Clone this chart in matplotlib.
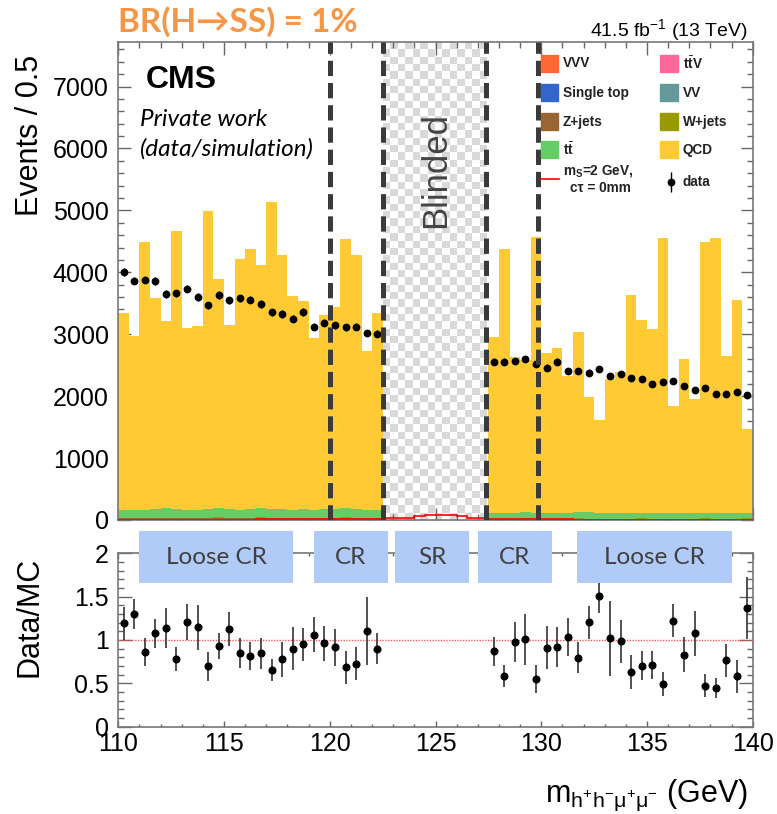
import numpy as np
import matplotlib
matplotlib.use("Agg")
import matplotlib.pyplot as plt
from matplotlib.patches import Rectangle
from matplotlib.colors import ListedColormap
from matplotlib.ticker import MultipleLocator, FuncFormatter

plt.rcParams['font.family'] = ['Liberation Sans', 'DejaVu Sans']
plt.rcParams['mathtext.fontset'] = 'custom'
plt.rcParams['mathtext.rm'] = 'Liberation Sans'
plt.rcParams['mathtext.it'] = 'Liberation Sans:italic'
plt.rcParams['mathtext.bf'] = 'Liberation Sans:bold'
plt.rcParams['lines.scale_dashes'] = False

# binning: 0.5 GeV bins, 122.5-127.5 blinded
edges = np.arange(110, 140.001, 0.5)
edges_lo = edges[:26]      # 110 -> 122.5
edges_hi = edges[35:]      # 127.5 -> 140

# data (events per bin), left and right sidebands
data_lo = [4000, 3866, 3882, 3855, 3650, 3661, 3737, 3602, 3468, 3634, 3548, 3581, 3559,
           3489, 3355, 3328, 3247, 3360, 3118, 3183, 3145, 3113, 3118, 3021, 3011]
data_hi = [2559, 2559, 2570, 2602, 2516, 2462, 2559, 2403, 2409, 2382, 2435, 2323, 2360,
           2301, 2274, 2194, 2221, 2247, 2156, 2102, 2129, 2032, 2038, 2060, 2021]

# simulated backgrounds
qcd_lo = [3180, 2820, 4330, 3405, 3030, 4490, 2925, 2975, 4815, 3705, 2975, 4055, 4205,
          3920, 4965, 4105, 3450, 3360, 2770, 3135, 3265, 4340, 4105, 2570, 3180]
qcd_hi = [2840, 4270, 2517, 2463, 4453, 2587, 2668, 2211, 2904, 1856, 1496, 2168, 2288,
          3528, 3108, 2969, 4442, 1727, 2485, 1840, 4377, 4442, 2539, 3447, 1356]
tt_lo = [135, 128, 132, 140, 148, 142, 135, 130, 138, 145, 138, 130, 134, 150, 140, 136,
         130, 138, 133, 140, 136, 150, 142, 130, 134]
tt_hi = [88, 85, 90, 95, 92, 88, 86, 95, 98, 100, 92, 88, 85, 88, 92, 90, 86, 88, 92, 88,
         85, 88, 90, 86, 95]
wj_lo = [8, 7, 8, 9, 10, 8, 8, 7, 9, 10, 8, 8, 9, 12, 9, 8, 8, 9, 8, 9, 8, 12, 9, 8, 8]
wj_hi = [5, 5, 4, 6, 5, 5, 4, 5, 6, 5, 5, 4, 5, 5, 6, 5, 4, 5, 5, 5, 4, 5, 5, 4, 5]
zj_lo = [15, 14, 16, 15, 18, 16, 15, 14, 17, 20, 16, 15, 16, 25, 18, 16, 15, 17, 16, 18,
         16, 28, 18, 15, 16]
zj_hi = [10, 9, 11, 12, 10, 9, 10, 11, 12, 10, 9, 10, 11, 10, 9, 10, 11, 10, 9, 10, 10,
         9, 10, 11, 12]
vv_lo = [3, 3, 2, 3, 3, 3, 2, 3, 3, 3, 3, 2, 3, 3, 3, 3, 2, 3, 3, 3, 3, 2, 3, 3, 3]
vv_hi = [2, 2, 2, 3, 2, 2, 2, 2, 3, 2, 2, 2, 2, 2, 3, 2, 2, 2, 2, 2, 3, 2, 2, 2, 2]
st_lo = [5, 5, 5, 6, 5, 5, 6, 5, 5, 6, 5, 5, 5, 6, 5, 5, 5, 6, 5, 5, 5, 6, 5, 5, 5]
st_hi = [4, 4, 4, 5, 4, 4, 4, 4, 5, 4, 4, 4, 4, 4, 5, 4, 4, 4, 4, 4, 5, 4, 4, 4, 4]
ttv_lo = [2, 2, 2, 2, 2, 2, 2, 2, 2, 2, 2, 2, 2, 2, 2, 2, 2, 2, 2, 2, 2, 2, 2, 2, 2]
ttv_hi = [2, 2, 2, 2, 2, 2, 1, 2, 2, 2, 2, 2, 1, 2, 2, 2, 2, 2, 1, 2, 2, 2, 2, 2, 1]
vvv_lo = [0.5, 0.4, 0.5, 0.5, 0.5, 0.4, 0.5, 0.5, 0.5, 0.4, 0.5, 0.5, 0.5, 0.4, 0.5,
          0.5, 0.5, 0.4, 0.5, 0.5, 0.5, 0.4, 0.5, 0.5, 0.5]
vvv_hi = [0.4, 0.4, 0.4, 0.4, 0.4, 0.4, 0.4, 0.4, 0.4, 0.4, 0.4, 0.4, 0.4, 0.4, 0.4,
          0.4, 0.4, 0.4, 0.4, 0.4, 0.4, 0.4, 0.4, 0.4, 0.4]

# signal m_S = 2 GeV, ctau = 0mm (all 60 bins)
signal = [4, 4, 5, 5, 5, 5, 6, 6, 6, 6, 7, 7, 7, 8, 8, 8, 9, 9, 10, 10, 11, 12, 13, 14, 16,
          28, 30, 32, 60, 85, 88, 86, 62, 32, 28,
          16, 14, 12, 11, 10, 9, 8, 8, 7, 7, 6, 6, 6, 5, 5, 5, 5, 4, 4, 4, 4, 4, 3, 3, 3]

# data/MC ratio uncertainties
rerr_lo = [0.19, 0.17, 0.16, 0.17, 0.23, 0.14, 0.21, 0.26, 0.165, 0.15, 0.2, 0.17, 0.165,
           0.18, 0.13, 0.2, 0.245, 0.19, 0.2, 0.2, 0.21, 0.19, 0.19, 0.39, 0.18]
rerr_hi = [0.165, 0.13, 0.23, 0.29, 0.165, 0.25, 0.23, 0.22, 0.18, 0.19, 0.2, 0.43, 0.25,
           0.2, 0.165, 0.16, 0.14, 0.19, 0.2, 0.26, 0.13, 0.12, 0.19, 0.19, 0.36]

# stack order bottom -> top
stack = [
    ("VVV", vvv_lo, vvv_hi, "#ff6633"),
    (r"t$\bar{\mathbf{t}}$V", ttv_lo, ttv_hi, "#ff6699"),
    ("Single top", st_lo, st_hi, "#3366cc"),
    ("VV", vv_lo, vv_hi, "#669999"),
    ("Z+jets", zj_lo, zj_hi, "#996633"),
    ("W+jets", wj_lo, wj_hi, "#999900"),
    (r"t$\bar{\mathbf{t}}$", tt_lo, tt_hi, "#66cc66"),
    ("QCD", qcd_lo, qcd_hi, "#ffca33"),
]
colors = {name: c for name, _, _, c in stack}

regions = ["Loose CR", "CR", "SR", "CR", "Loose CR"]
region_lo = [111.0, 119.25, 123.1, 127.0, 131.7]
region_hi = [118.25, 122.75, 126.6, 130.5, 139.0]

YMAX = 7720

fig = plt.figure(figsize=(7.77, 8.14), dpi=100)
ax1 = fig.add_axes([0.1523, 0.3612, 0.8164, 0.5872])
ax2 = fig.add_axes([0.1523, 0.1073, 0.8164, 0.2130])

# stacked backgrounds
for edg, side in ((edges_lo, 1), (edges_hi, 2)):
    bottom = np.zeros(25)
    for name, lo, hi, c in stack:
        vals = np.array(lo if side == 1 else hi, dtype=float)
        ax1.stairs(bottom + vals, edg, baseline=bottom, fill=True, color=c, lw=0, zorder=2)
        bottom = bottom + vals

# blinded checkerboard
checker = np.indices((65, 14)).sum(axis=0) % 2
ax1.imshow(checker, cmap=ListedColormap(["white", "#d9d9d9"]), extent=[122.5, 127.4, 0, YMAX],
           aspect="auto", interpolation="nearest", zorder=1)
ax1.text(125.0, 5650, "Blinded", rotation=90, ha="center", va="center", fontsize=25,
         color="#444444", zorder=3)

# signal
ax1.stairs(signal, edges, color="red", lw=1.2, zorder=4)

# data
x_lo = edges_lo[:-1] + 0.25
x_hi = edges_hi[:-1] + 0.25
for xs, ds in ((x_lo, data_lo), (x_hi, data_hi)):
    ds = np.array(ds, dtype=float)
    ax1.errorbar(xs, ds, yerr=np.sqrt(ds), fmt="o", color="black", ms=4.6, lw=1, zorder=5)

# dashed region boundaries
for xv in (120.0, 122.5, 127.4, 129.85):
    ax1.axvline(xv, color="#3a3a3a", lw=3.6, dashes=(11, 5), zorder=6)

ax1.set_xlim(110, 140)
ax1.set_ylim(0, YMAX)

# legend (two columns, drawn by hand)
tr = ax1.transAxes
col1 = ["VVV", "Single top", "Z+jets", r"t$\bar{\mathbf{t}}$"]
col2 = [r"t$\bar{\mathbf{t}}$V", "VV", "W+jets", "QCD"]
rows_y = [0.9554, 0.8940, 0.8333, 0.7741]
for names, px, tx in ((col1, 0.666, 0.7005), (col2, 0.854, 0.8897)):
    for name, yy in zip(names, rows_y):
        ax1.add_patch(Rectangle((px, yy - 0.0178), 0.0277, 0.0356, transform=tr,
                                color=colors[name], zorder=7))
        ax1.text(tx, yy, name, transform=tr, ha="left", va="center", fontsize=9.8,
                 fontweight="bold", color="#222222", zorder=7)
ax1.plot([0.666, 0.695], [0.7127, 0.7127], transform=tr, color="red", lw=1.2, zorder=7)
ax1.text(0.7005, 0.7300, r"m$_\mathbf{S}$=2 GeV,", transform=tr, ha="left", va="center",
         fontsize=9.8, fontweight="bold", color="#222222", zorder=7)
ax1.text(0.7115, 0.6955, "c\u03c4 = 0mm", transform=tr, ha="left", va="center",
         fontsize=9.8, fontweight="bold", color="#222222", zorder=7)
ax1.errorbar([0.8707], [0.7077], yerr=[0.021], transform=tr, fmt="o", color="black",
             ms=4.6, lw=1, zorder=7, clip_on=False)
ax1.text(0.8897, 0.7077, "data", transform=tr, ha="left", va="center", fontsize=9.8,
         fontweight="bold", color="#222222", zorder=7)

# CMS labels
ax1.text(0.0425, 0.92, "CMS", transform=tr, ha="left", va="center", fontsize=23,
         fontweight="bold", zorder=7)
ax1.text(0.034, 0.838, "Private work", transform=tr, ha="left", va="center", fontsize=17.5,
         family=["Lato", "DejaVu Sans"], style="italic", zorder=7)
ax1.text(0.034, 0.776, "(data/simulation)", transform=tr, ha="left", va="center",
         fontsize=17.5, family=["Lato", "DejaVu Sans"], style="italic", zorder=7)

# ratio
for xs, ds, side, er in ((x_lo, data_lo, 1, rerr_lo), (x_hi, data_hi, 2, rerr_hi)):
    tot = np.zeros(25)
    for name, l, h, c in stack:
        tot = tot + np.array(l if side == 1 else h, dtype=float)
    ax2.errorbar(xs, np.array(ds) / tot, yerr=er, fmt="o", color="black", ecolor="#333333",
                 ms=4.8, lw=1.2, zorder=5)
ax2.axhline(1.0, color="#ff5555", lw=1, ls=(0, (1, 1)), zorder=3)
ax2.set_xlim(110, 140)
ax2.set_ylim(0, 2)

for name, a, b in zip(regions, region_lo, region_hi):
    ax2.add_patch(Rectangle((a, 1.657), b - a, 0.6, facecolor="#b0cbf7", edgecolor="none",
                            clip_on=False, zorder=8))
    ax2.text((a + b) / 2, 1.957, name, ha="center", va="center", fontsize=17.5,
             family=["Lato", "DejaVu Sans"], color="#404040", clip_on=False, zorder=9)

# axes styling
for ax in (ax1, ax2):
    for s in ax.spines.values():
        s.set_color("#777777")
        s.set_linewidth(1.2)
    ax.xaxis.set_major_locator(MultipleLocator(5))
    ax.xaxis.set_minor_locator(MultipleLocator(1))
    ax.tick_params(which="both", direction="in", top=True, right=True, colors="#666666",
                   labelcolor="black", labelsize=18, width=1.0)

ax1.yaxis.set_major_locator(MultipleLocator(1000))
ax1.yaxis.set_minor_locator(MultipleLocator(200))
ax1.tick_params(which="major", length=9)
ax1.tick_params(which="minor", length=4.5)
ax1.tick_params(axis="x", labelbottom=False)
ax1.tick_params(axis="y", pad=7)

ax2.yaxis.set_major_locator(MultipleLocator(0.5))
ax2.yaxis.set_minor_locator(MultipleLocator(0.1))
ax2.yaxis.set_major_formatter(FuncFormatter(lambda v, p: f"{v:g}"))
ax2.tick_params(axis="x", which="major", length=4.5, pad=4)
ax2.tick_params(axis="x", which="minor", length=2.2)
ax2.tick_params(axis="y", which="major", length=10, pad=7)
ax2.tick_params(axis="y", which="minor", length=4.5)

# titles and axis labels
fig.text(118 / 777, 1 - 22 / 814, "BR(H\u2192SS) = 1%", ha="left", va="center", fontsize=24,
         fontweight="bold", color="#f79646", family=["Lato", "DejaVu Sans"])
fig.text(748 / 777, 1 - 30 / 814, r"41.5 fb$^{-1}$ (13 TeV)", ha="right", va="center",
         fontsize=14)
fig.text(30 / 777, 1 - 135 / 814, "Events / 0.5", rotation=90, ha="center", va="center",
         fontsize=22)
fig.text(30 / 777, 1 - 617 / 814, "Data/MC", rotation=90, ha="center", va="center",
         fontsize=22)
fig.text(748 / 777, 1 - 795 / 814,
         r"m$_{\mathrm{h^{+}h^{-}\mu^{+}\mu^{-}}}$ (GeV)", ha="right", va="center",
         fontsize=22)

fig.savefig("out.png", dpi=100)
